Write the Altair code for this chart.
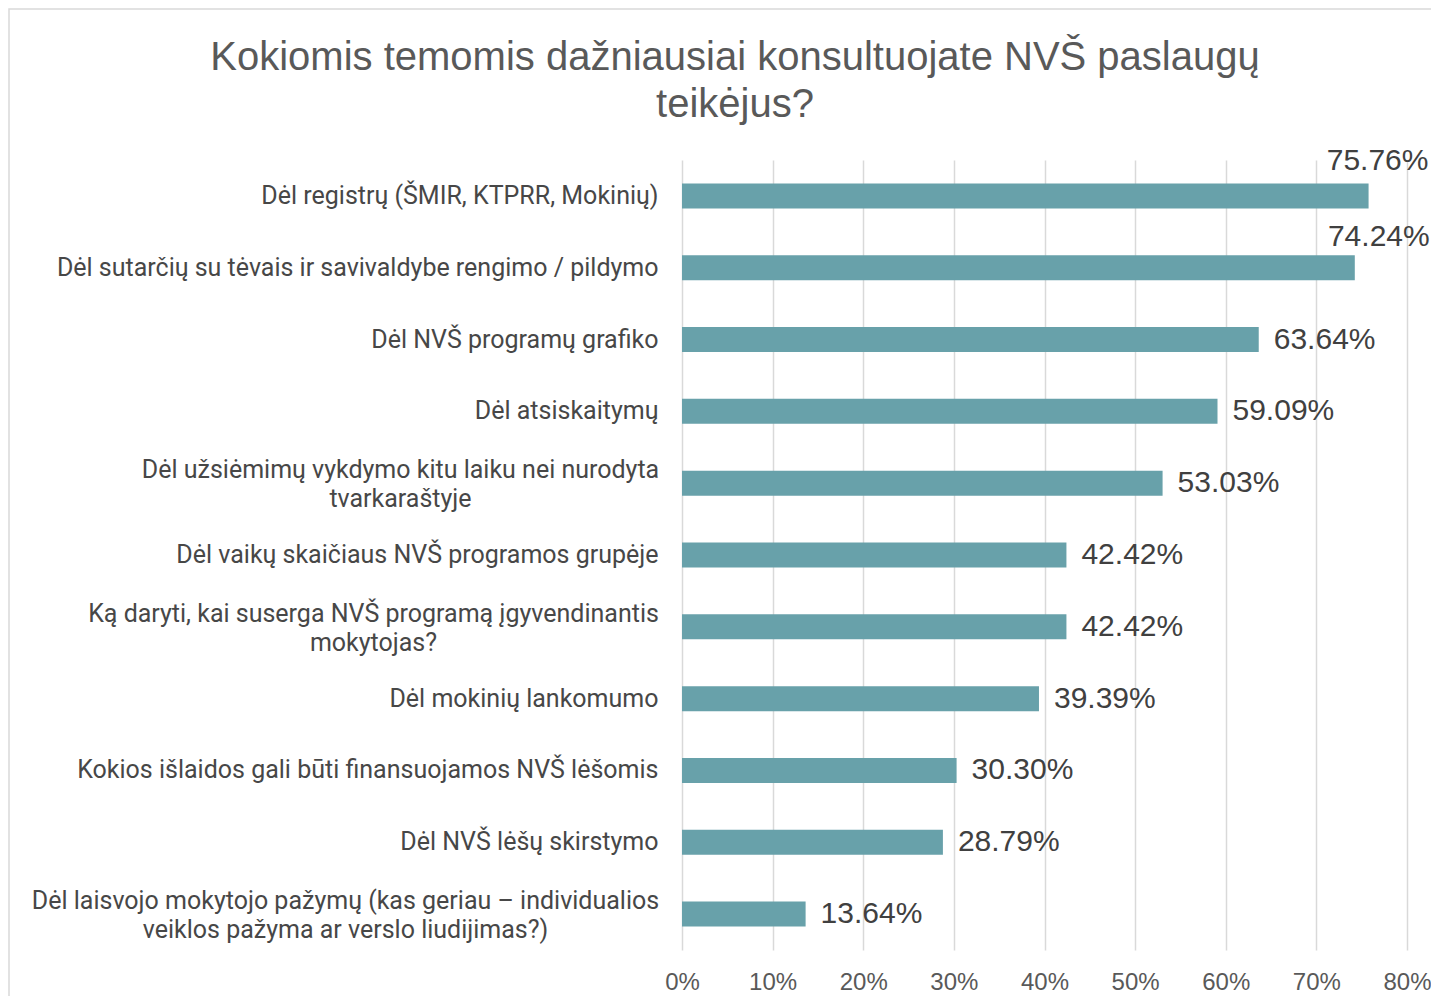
import altair as alt
import pandas as pd

title_lines = ["Kokiomis temomis dažniausiai konsultuojate NVŠ paslaugų", "teikėjus?"]
categories = [
    "Dėl registrų (ŠMIR, KTPRR, Mokinių)",
    "Dėl sutarčių su tėvais ir savivaldybe rengimo / pildymo",
    "Dėl NVŠ programų grafiko",
    "Dėl atsiskaitymų",
    "Dėl užsiėmimų vykdymo kitu laiku nei nurodyta|tvarkaraštyje",
    "Dėl vaikų skaičiaus NVŠ programos grupėje",
    "Ką daryti, kai suserga NVŠ programą įgyvendinantis|mokytojas?",
    "Dėl mokinių lankomumo",
    "Kokios išlaidos gali būti finansuojamos NVŠ lėšomis",
    "Dėl NVŠ lėšų skirstymo",
    "Dėl laisvojo mokytojo pažymų (kas geriau – individualios|veiklos pažyma ar verslo liudijimas?)",
]
values = [75.76, 74.24, 63.64, 59.09, 53.03, 42.42, 42.42, 39.39, 30.30, 28.79, 13.64]
x_ticks = [0, 0.1, 0.2, 0.3, 0.4, 0.5, 0.6, 0.7, 0.8]

df = pd.DataFrame({"cat": categories, "pct": values})

W, H = 725, 790
PAD_L, PAD_T = 674, 152

base = alt.Chart(df).transform_calculate(v="datum.pct / 100")

multi = "indexof(datum.label, '|') >= 0"
y_enc = alt.Y(
    "cat:N",
    sort=categories,
    scale=alt.Scale(paddingInner=0, paddingOuter=0),
    axis=alt.Axis(
        title=None, ticks=False, domain=False, grid=False,
        labelFont="Roboto", labelFontSize=25, labelColor="#474747",
        labelLimit=0, labelLineHeight=29,
        labelAlign=alt.condition(multi, alt.value("center"), alt.value("right")),
        labelPadding={
            "condition": [
                {"test": "indexof(datum.label, 'tvarkara') >= 0", "value": 282},
                {"test": "indexof(datum.label, 'mokytojas?') >= 0", "value": 309},
                {"test": "indexof(datum.label, 'liudijimas') >= 0", "value": 337},
            ],
            "value": 24,
        },
        labelOffset=alt.condition(multi, alt.value(-13), alt.value(0)),
        labelExpr="split(datum.label, '|')",
    ),
)
x_enc = alt.X(
    "v:Q",
    scale=alt.Scale(domain=[0, 0.8], nice=False),
    axis=alt.Axis(
        title=None, format=".0%", values=x_ticks, ticks=False, domain=False,
        grid=True, gridColor="#D9D9D9", gridWidth=1.5,
        labelFont="Liberation Sans", labelFontSize=24, labelColor="#595959",
        labelPadding=20, labelFlush=False,
    ),
)

one = alt.Data(values=[{"a": 1}])

border = alt.Chart(one).mark_rect(
    filled=False, stroke="#D9D9D9", strokeWidth=1.5
).encode(
    x=alt.value(9 - 8 - PAD_L), x2=alt.value(3000),
    y=alt.value(9 - 8 - PAD_T), y2=alt.value(3000),
)

title = alt.Chart(one).mark_text(
    align="center", baseline="middle", font="Liberation Sans", fontSize=40,
    color="#595959", lineHeight=47,
).encode(
    x=alt.value(735 - 682), y=alt.value(58 - 160), text=alt.value(title_lines)
)

bars = base.mark_bar(size=25, color="#68A1AA").encode(y=y_enc, x=x_enc)

labels_normal = base.transform_filter("datum.pct < 70").mark_text(
    align="left", baseline="middle", dx=15, font="Liberation Sans", fontSize=30, color="#404040"
).encode(y=alt.Y("cat:N", sort=categories), x="v:Q", text=alt.Text("v:Q", format=".2%"))

labels_top = base.transform_filter("datum.pct >= 70").mark_text(
    align="center", baseline="middle",
    dx=alt.expr("datum.pct > 75 ? 9 : 24"), dy=alt.expr("datum.pct > 75 ? -35 : -31"),
    font="Liberation Sans", fontSize=30, color="#404040"
).encode(y=alt.Y("cat:N", sort=categories), x="v:Q", text=alt.Text("v:Q", format=".2%"))

chart = alt.layer(border, title, bars, labels_normal, labels_top).properties(
    width=W, height=H,
    autosize=alt.AutoSizeParams(type="none"),
    padding={"left": PAD_L, "top": PAD_T, "right": 24, "bottom": 46},
).configure_view(stroke=None)

chart.save("out.html", embed_options={"renderer": "svg", "actions": False})
